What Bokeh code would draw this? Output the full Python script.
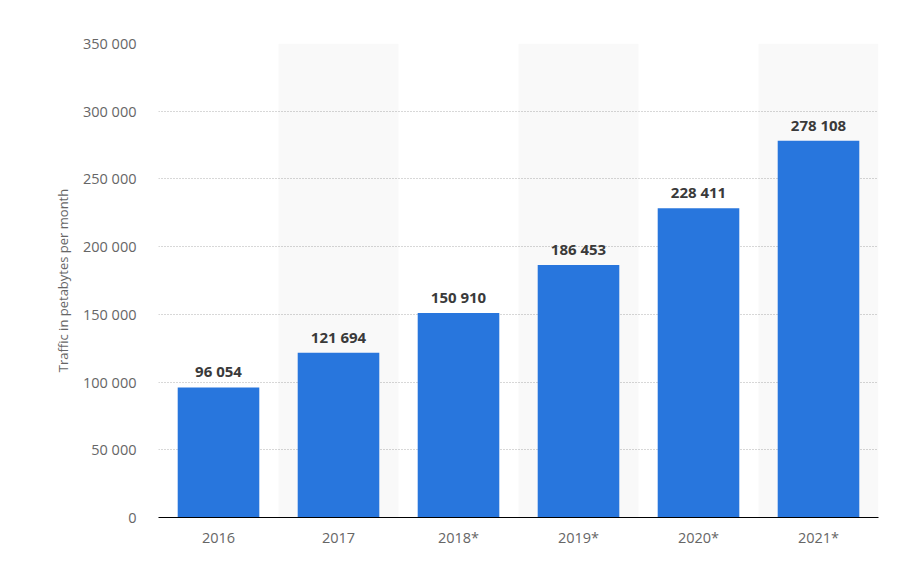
from bokeh.plotting import figure
from bokeh.models import ColumnDataSource, FixedTicker, Range1d, FactorRange
from bokeh.core.properties import value
from bokeh.embed import file_html
from bokeh.resources import INLINE

years = ["2016", "2017", "2018*", "2019*", "2020*", "2021*"]
traffic = [96054, 121694, 150910, 186453, 228411, 278108]
y_ticks = [0, 50000, 100000, 150000, 200000, 250000, 300000, 350000]
y_max = 350000

def fmt(v):
    return f"{v:,}".replace(",", " ")

labels = [fmt(v) for v in traffic]

p = figure(x_range=FactorRange(*years), y_range=Range1d(0, y_max),
           width=889, height=568, output_backend="svg", toolbar_location=None,
           min_border_left=158, min_border_right=11, min_border_top=43, min_border_bottom=51)
p.outline_line_color = None
p.background_fill_color = "white"

band_years = years[1::2]
p.vbar(x=band_years, top=[y_max] * len(band_years), bottom=0, width=1.0,
       fill_color="#000000", fill_alpha=0.024, line_color=None)

src = ColumnDataSource(dict(x=years, top=traffic, label=labels))
p.vbar(x="x", top="top", width=0.68, source=src, fill_color="#2876dd", line_color=None)
p.text(x="x", y="top", text="label", source=src, y_offset=-6,
       text_align="center", text_baseline="bottom",
       text_font=value("Open Sans"), text_font_style="bold",
       text_font_size="15px", text_color="#3a3a3a")

p.yaxis.ticker = FixedTicker(ticks=y_ticks)
p.yaxis.major_label_overrides = {t: fmt(t) for t in y_ticks}
p.yaxis.axis_line_color = None
p.yaxis.major_tick_line_color = None
p.yaxis.minor_tick_line_color = None
p.yaxis.major_label_text_font = "Open Sans"
p.yaxis.major_label_text_font_size = "14.5px"
p.yaxis.major_label_text_color = "#666666"
p.yaxis.major_label_standoff = 16
p.yaxis.axis_label = "Traffic in petabytes per month"
p.yaxis.axis_label_text_font = "Open Sans"
p.yaxis.axis_label_text_font_style = "normal"
p.yaxis.axis_label_text_font_size = "13px"
p.yaxis.axis_label_text_color = "#666666"
p.yaxis.axis_label_standoff = 8

p.xaxis.axis_line_color = "#000000"
p.xaxis.axis_line_width = 1
p.xaxis.major_tick_line_color = None
p.xaxis.minor_tick_line_color = None
p.xaxis.major_label_text_font = "Open Sans"
p.xaxis.major_label_text_font_size = "14.5px"
p.xaxis.major_label_text_color = "#666666"
p.xaxis.major_label_standoff = 4

p.xgrid.grid_line_color = None
p.ygrid.grid_line_color = "#b0b0b0"
p.ygrid.grid_line_dash = "1 2"
p.ygrid.grid_line_width = 1

open("out.html", "w").write(file_html(p, INLINE))
